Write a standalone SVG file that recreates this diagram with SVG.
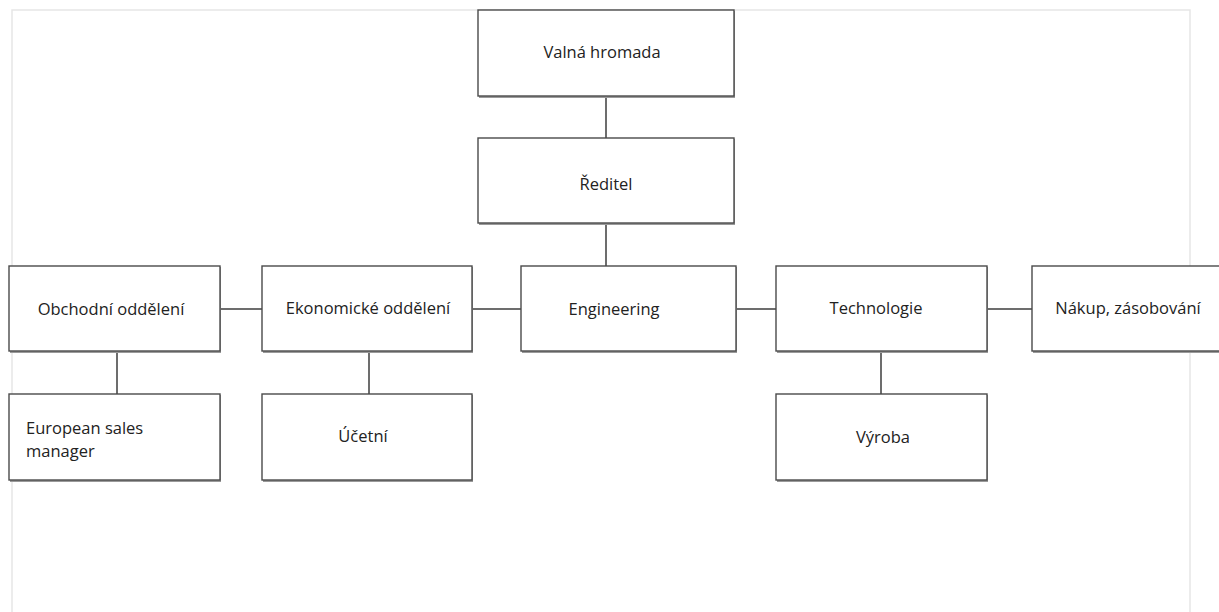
<svg xmlns="http://www.w3.org/2000/svg" width="1219" height="612" viewBox="0 0 1219 612">
  <style>
    .frame { fill: none; stroke: #e6e6e6; stroke-width: 1.5; }
    .shadow { fill: #9a9a9a; }
    .box { fill: #ffffff; stroke: #4a4a4a; stroke-width: 1.4; }
    .link { fill: none; stroke: #3c3c3c; stroke-width: 1.5; }
    text { font-family: "Open Sans", "Noto Sans", "DejaVu Sans", sans-serif; font-size: 16.5px; fill: #222222; }
    .c { text-anchor: middle; }
  </style>

  <rect width="1219" height="612" fill="#ffffff"/>
  <!-- page frame -->
  <path class="frame" d="M12,612 V10 H1190 V612"/>

  <g id="connectors">
    <line class="link" x1="606" y1="96" x2="606" y2="138"/>
    <line class="link" x1="606" y1="223" x2="606" y2="266"/>
    <line class="link" x1="220" y1="309" x2="262" y2="309"/>
    <line class="link" x1="472" y1="309" x2="521" y2="309"/>
    <line class="link" x1="736" y1="309" x2="776" y2="309"/>
    <line class="link" x1="987" y1="309" x2="1032" y2="309"/>
    <line class="link" x1="117" y1="351" x2="117" y2="394"/>
    <line class="link" x1="369" y1="351" x2="369" y2="394"/>
    <line class="link" x1="881" y1="351" x2="881" y2="394"/>
  </g>

  <g id="valna-hromada">
    <rect class="shadow" x="479" y="11" width="256" height="87"/>
    <rect class="box" x="478" y="10" width="256" height="86"/>
    <text class="c" x="602" y="58">Valná hromada</text>
  </g>

  <g id="reditel">
    <rect class="shadow" x="479" y="139" width="256" height="86"/>
    <rect class="box" x="478" y="138" width="256" height="85"/>
    <text class="c" x="606" y="190">Ředitel</text>
  </g>

  <g id="obchodni-oddeleni">
    <rect class="shadow" x="10" y="267" width="211" height="86"/>
    <rect class="box" x="9" y="266" width="211" height="85"/>
    <text class="c" x="111" y="315">Obchodní oddělení</text>
  </g>

  <g id="ekonomicke-oddeleni">
    <rect class="shadow" x="263" y="267" width="210" height="86"/>
    <rect class="box" x="262" y="266" width="210" height="85"/>
    <text class="c" x="368" y="314">Ekonomické oddělení</text>
  </g>

  <g id="engineering">
    <rect class="shadow" x="522" y="267" width="215" height="86"/>
    <rect class="box" x="521" y="266" width="215" height="85"/>
    <text class="c" x="614" y="315">Engineering</text>
  </g>

  <g id="technologie">
    <rect class="shadow" x="777" y="267" width="211" height="86"/>
    <rect class="box" x="776" y="266" width="211" height="85"/>
    <text class="c" x="876" y="314">Technologie</text>
  </g>

  <g id="nakup-zasobovani">
    <rect class="shadow" x="1033" y="267" width="190" height="86"/>
    <rect class="box" x="1032" y="266" width="190" height="85"/>
    <text class="c" x="1128" y="314">Nákup, zásobování</text>
  </g>

  <g id="european-sales-manager">
    <rect class="shadow" x="10" y="395" width="211" height="87"/>
    <rect class="box" x="9" y="394" width="211" height="86"/>
    <text x="26" y="434">European sales</text>
    <text x="26" y="457">manager</text>
  </g>

  <g id="ucetni">
    <rect class="shadow" x="263" y="395" width="210" height="87"/>
    <rect class="box" x="262" y="394" width="210" height="86"/>
    <text class="c" x="363" y="442">Účetní</text>
  </g>

  <g id="vyroba">
    <rect class="shadow" x="777" y="395" width="211" height="87"/>
    <rect class="box" x="776" y="394" width="211" height="86"/>
    <text class="c" x="883" y="443">Výroba</text>
  </g>
</svg>
